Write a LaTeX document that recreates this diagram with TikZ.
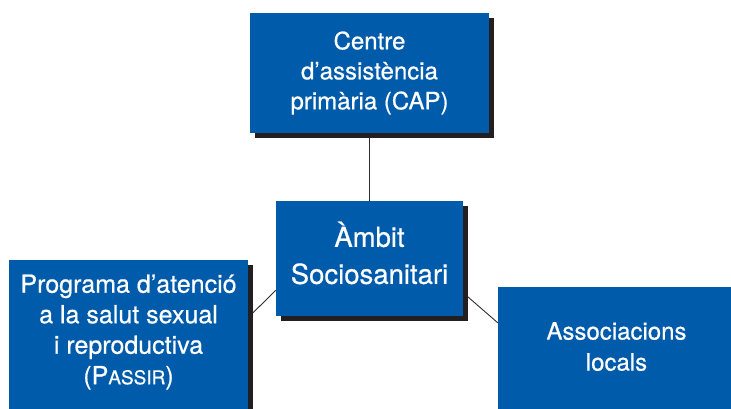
\documentclass[tikz,border=0pt]{standalone}
\usepackage{fontspec}
\setmainfont[FakeBold=0.6,AutoFakeBold=0.6]{TeX Gyre Heros}
\newfontfamily\boxfont[FakeBold=0.6]{TeX Gyre Heros}
\usetikzlibrary{shadows,calc,backgrounds}
\definecolor{boxblue}{RGB}{0,91,170}
\definecolor{shadowc}{RGB}{35,31,32}
\definecolor{linec}{RGB}{45,45,45}
\begin{document}
\begin{tikzpicture}[x=1pt,y=-1pt,
  box/.style={rectangle, fill=boxblue, text=white, align=center, inner sep=0pt,
    drop shadow={shadow xshift=5pt, shadow yshift=-5pt, fill=shadowc, opacity=1}},
  boxtext/.style={text=white, align=center, inner sep=0pt},
  conn/.style={draw=linec, line width=0.9pt}]
\useasboundingbox (0,0) rectangle (731,408);
\clip (0,0) rectangle (731,408);
\node[box, minimum width=239pt, minimum height=120pt, font=\boxfont\fontsize{24}{30}\selectfont] (tb) at (369.5,73)
  {Centre\\d’assistència\\primària (CAP)};
\node[box, minimum width=187pt, minimum height=115pt] (cb) at (369.5,258.5) {};
\node[boxtext, font=\boxfont\fontsize{27.5}{37}\selectfont] (cbt) at (369.5,253)
  {Àmbit\\Sociosanitari};
\node[box, minimum width=239pt, minimum height=170pt, anchor=north] (lb) at (128.5,260) {};
\node[boxtext, font=\boxfont\fontsize{25}{30.5}\selectfont] (lbt) at (128.5,332)
  {Programa d’atenció\\a la salut sexual\\i reproductiva\\(P{\fontsize{19}{30.5}\selectfont ASSIR})};
\node[box, minimum width=237pt, minimum height=125pt] (rb) at (616.5,349.5) {};
\node[boxtext, font=\boxfont\fontsize{24}{31}\selectfont] (rbt) at (616.5,346.5)
  {Associacions\\locals};
\begin{pgfonlayer}{background}
\draw[conn] (tb.south) -- (cb.north);
\draw[conn] ($(lb.north east)+(0,57.5)$) -- ($(cb.north west)+(0,89.5)$);
\draw[conn] ($(cb.north east)+(0,92)$) -- ($(rb.north west)+(0,36)$);
\end{pgfonlayer}
\end{tikzpicture}
\end{document}
